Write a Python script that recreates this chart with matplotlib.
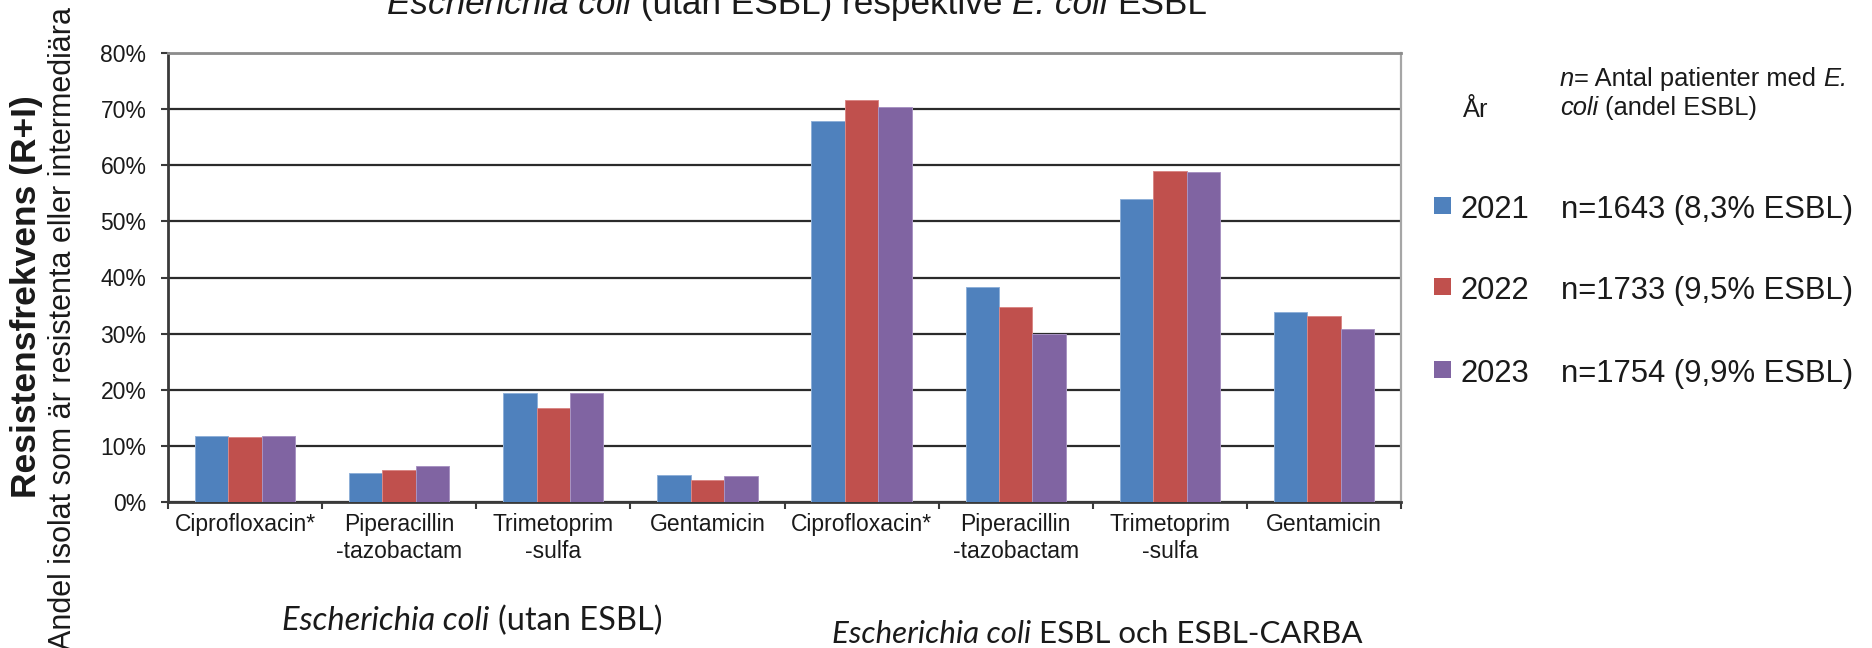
import matplotlib
matplotlib.use("Agg")
import matplotlib.pyplot as plt
from matplotlib.font_manager import FontProperties
from matplotlib.patches import Rectangle
import numpy as np

# ---------------- data ----------------
categories = ["Ciprofloxacin*", "Piperacillin\n-tazobactam", "Trimetoprim\n-sulfa", "Gentamicin",
              "Ciprofloxacin*", "Piperacillin\n-tazobactam", "Trimetoprim\n-sulfa", "Gentamicin"]
years = ["2021", "2022", "2023"]
n_labels = ["n=1643 (8,3% ESBL)", "n=1733 (9,5% ESBL)", "n=1754 (9,9% ESBL)"]
v2021 = [11.8, 5.1, 19.5, 4.8, 67.9, 38.3, 53.9, 33.8]
v2022 = [11.5, 5.7, 16.7, 4.0, 71.6, 34.7, 59.0, 33.2]
v2023 = [11.8, 6.5, 19.5, 4.6, 70.3, 30.0, 58.8, 30.9]
yticks = [0, 10, 20, 30, 40, 50, 60, 70, 80]

colors = ["#4F81BD", "#C0504D", "#8064A2"]
edges = ["#8FB0D8", "#D98886", "#A893C2"]
TXT = "#1a1a1a"
ARIAL = ["Liberation Sans", "DejaVu Sans"]
CALI = ["Lato", "Open Sans", "DejaVu Sans"]

plt.rcParams["font.family"] = ARIAL

W, H = 1872, 648
fig = plt.figure(figsize=(W / 100, H / 100), dpi=100)
fig.patch.set_facecolor("white")

ax_l, ax_r, ax_t, ax_b = 168, 1401, 53, 502
ax = fig.add_axes([ax_l / W, 1 - ax_b / H, (ax_r - ax_l) / W, (ax_b - ax_t) / H])

x = np.arange(len(categories))
bw = 0.217
for i, vals in enumerate([v2021, v2022, v2023]):
    ax.bar(x + (i - 1) * bw, vals, bw, color=colors[i], edgecolor=edges[i],
           linewidth=0.7, zorder=3, label=years[i])

ax.set_xlim(-0.5, len(categories) - 0.5)
ax.set_ylim(0, 80)
ax.set_yticks(yticks)
ax.set_yticklabels([f"{v}%" for v in yticks])
ax.set_axisbelow(True)
ax.yaxis.grid(True, color="#2b2b2b", linewidth=1.6, zorder=0)

ax.set_xticks(x)
ax.set_xticklabels(categories, multialignment="center")
ax.set_xticks(np.arange(-0.5, len(categories)), minor=True)
ax.tick_params(axis="x", which="major", length=0, pad=8, labelsize=16.5, labelcolor=TXT)
ax.tick_params(axis="x", which="minor", length=5, width=1.5, color="#3a3a3a", direction="out")
ax.tick_params(axis="y", length=5, width=1.5, color="#3a3a3a", pad=10.5, labelsize=16.5,
               labelcolor=TXT, direction="out")

for s in ["left", "bottom"]:
    ax.spines[s].set_color("#3a3a3a")
    ax.spines[s].set_linewidth(2)
ax.spines["top"].set_color("#8c8c8c")
ax.spines["top"].set_linewidth(2)
ax.spines["right"].set_color("#a6a6a6")
ax.spines["right"].set_linewidth(1.6)

renderer = fig.canvas.get_renderer()


def fp(family, size, style="normal", weight="normal"):
    return FontProperties(family=family, size=size, style=style, weight=weight)


def text_width(s, prop):
    t = fig.text(0, 0, s, fontproperties=prop)
    w = t.get_window_extent(renderer).width
    t.remove()
    return w


def draw_pieces(x_px, y_px, pieces, align="left"):
    widths = []
    for s, prop in pieces:
        sw = text_width("x x", prop) - text_width("xx", prop)
        core = s.strip()
        lead = len(s) - len(s.lstrip())
        trail = len(s) - len(s.rstrip())
        widths.append((lead * sw, text_width(core, prop) if core else 0.0, trail * sw))
    total = sum(a + b + c for a, b, c in widths)
    cur = x_px - total / 2 if align == "center" else x_px
    for (s, prop), (a, b, c) in zip(pieces, widths):
        cur += a
        fig.text(cur / W, 1 - y_px / H, s.strip(), fontproperties=prop,
                 va="baseline", ha="left", color=TXT)
        cur += b + c


# title (partly cut off at top, as in the original)
ts = 25.3
draw_pieces(797, 14, [("Escherichia coli", fp(ARIAL, ts, "italic")),
                      (" (utan ESBL) respektive ", fp(ARIAL, ts)),
                      ("E. coli", fp(ARIAL, ts, "italic")),
                      (" ESBL", fp(ARIAL, ts))], align="center")

# y axis titles
fig.text(27 / W, 1 - 297 / H, "Resistensfrekvens (R+I)", rotation=90, ha="center", va="center",
         fontproperties=fp(ARIAL, 25.5, weight="bold"), color=TXT)
fig.text(63 / W, 1 - 328 / H, "Andel isolat som är resistenta eller intermediära", rotation=90,
         ha="center", va="center", fontproperties=fp(ARIAL, 22), color=TXT)

# group labels under the axis
draw_pieces(282, 630, [("Escherichia coli", fp(CALI, 23.5, "italic")),
                       (" (utan ESBL)", fp(CALI, 23.5))])
draw_pieces(832, 643, [("Escherichia coli", fp(CALI, 22.5, "italic")),
                       (" ESBL och ESBL-CARBA", fp(CALI, 22.5))])

# legend header
hs = 18.4
fig.text(1463 / W, 1 - 117 / H, "År", fontproperties=fp(ARIAL, hs), va="baseline", color=TXT)
draw_pieces(1560, 86, [("n", fp(ARIAL, hs, "italic")),
                       ("= Antal patienter med ", fp(ARIAL, hs)),
                       ("E.", fp(ARIAL, hs, "italic"))])
draw_pieces(1560, 115, [("coli", fp(ARIAL, hs, "italic")),
                        (" (andel ESBL)", fp(ARIAL, hs))])

# legend rows
ls = 22.3
row_base = [218, 299, 382]
for i in range(3):
    yb = row_base[i]
    fig.add_artist(Rectangle((1434 / W, 1 - (yb - 4) / H), 17 / W, 17 / H,
                             transform=fig.transFigure, facecolor=colors[i], edgecolor="none"))
    fig.text(1461 / W, 1 - yb / H, years[i], fontproperties=fp(ARIAL, ls), va="baseline", color=TXT)
    fig.text(1561 / W, 1 - yb / H, n_labels[i], fontproperties=fp(ARIAL, ls), va="baseline", color=TXT)

fig.savefig("out.png", dpi=100, facecolor="white")
